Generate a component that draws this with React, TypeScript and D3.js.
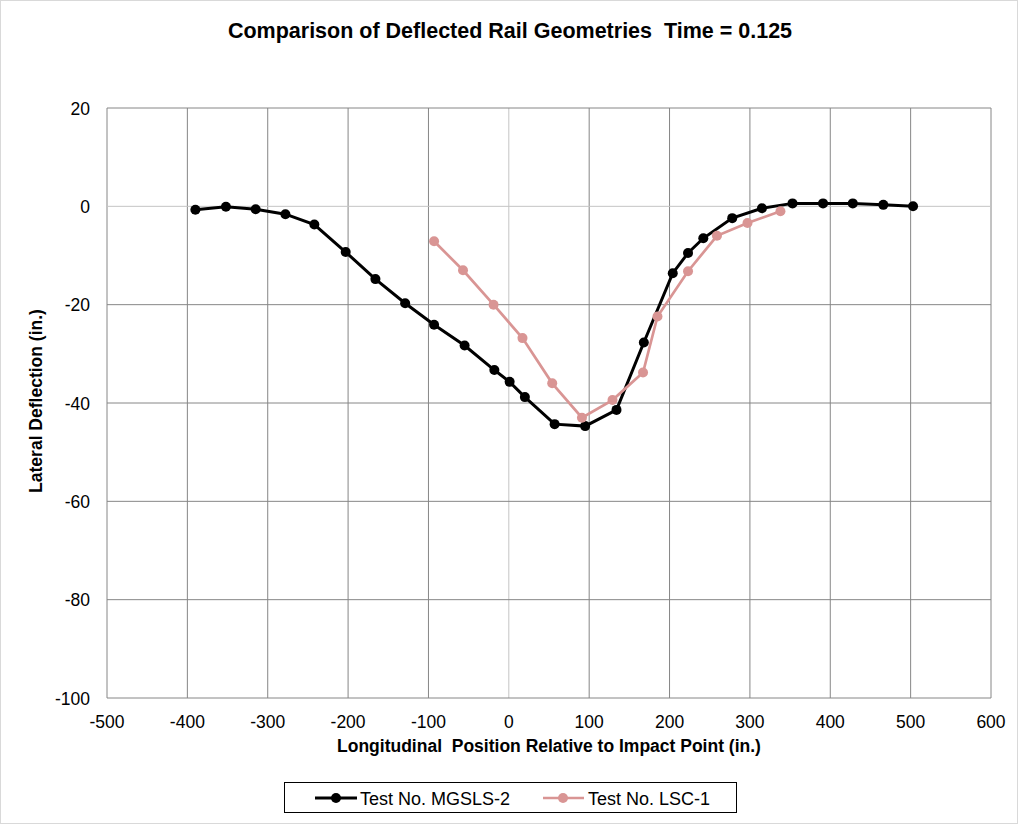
import React from "react";
import * as d3 from "d3";

const mgslsX = [-390, -352, -315, -278, -242, -203, -166, -129, -93, -55, -18, 1, 20, 57, 95, 134, 168, 204, 223, 242, 278, 315, 353, 391, 428, 466, 503];
const mgslsY = [-0.7, -0.1, -0.6, -1.6, -3.7, -9.3, -14.8, -19.7, -24.1, -28.3, -33.3, -35.7, -38.8, -44.3, -44.7, -41.4, -27.7, -13.6, -9.5, -6.5, -2.4, -0.4, 0.6, 0.6, 0.6, 0.3, 0];
const lscX = [-93, -57, -19, 17, 54, 91, 129, 167, 185, 223, 259, 297, 338];
const lscY = [-7.1, -13.0, -20.0, -26.8, -36.0, -43.0, -39.4, -33.8, -22.4, -13.2, -6.0, -3.4, -1.0];
const xTicks = [-500, -400, -300, -200, -100, 0, 100, 200, 300, 400, 500, 600];
const yTicks = [20, 0, -20, -40, -60, -80, -100];
const seriesNames = ["Test No. MGSLS-2", "Test No. LSC-1"];
const seriesColors = ["#000000", "#d99594"];

const W = 1018, H = 825;
const L = 107, R = 991, T = 108, B = 698;
const FONT = "'Liberation Sans', Arial, sans-serif";

export default function App() {
  const x = d3.scaleLinear().domain([-500, 600]).range([L, R]);
  const y = d3.scaleLinear().domain([-100, 20]).range([B, T]);
  const line = d3.line<[number, number]>().x(d => x(d[0])).y(d => y(d[1]));
  const s1: [number, number][] = mgslsX.map((v, i) => [v, mgslsY[i]]);
  const s2: [number, number][] = lscX.map((v, i) => [v, lscY[i]]);

  return (
    <svg width={W} height={H} style={{ position: "absolute", left: 0, top: 0, background: "#fff", whiteSpace: "pre" }} fontFamily={FONT}>
      <rect x={0.5} y={0.5} width={W - 1} height={H - 2} fill="#fff" stroke="#d9d9d9" />
      <text x={510} y={38} textAnchor="middle" fontSize={21.5} fontWeight="bold" style={{ whiteSpace: "pre" }}>{"Comparison of Deflected Rail Geometries  Time = 0.125"}</text>
      {/* grid */}
      {xTicks.map(t => (
        <line key={"gx" + t} x1={x(t)} x2={x(t)} y1={T} y2={B} stroke={t === 0 ? "#c4c4c4" : "#868686"} strokeWidth={1} />
      ))}
      {yTicks.map(t => (
        <line key={"gy" + t} x1={L} x2={R} y1={y(t)} y2={y(t)} stroke={t === 0 ? "#c4c4c4" : "#868686"} strokeWidth={1} />
      ))}
      {xTicks.map(t => (
        <text key={"tx" + t} x={x(t)} y={728} textAnchor="middle" fontSize={17.5}>{t}</text>
      ))}
      {yTicks.map(t => (
        <text key={"ty" + t} x={90} y={y(t) + 6.5} textAnchor="end" fontSize={17.5}>{t}</text>
      ))}
      <text x={549} y={752} textAnchor="middle" fontSize={17.5} fontWeight="bold" style={{ whiteSpace: "pre" }}>{"Longitudinal  Position Relative to Impact Point (in.)"}</text>
      <text transform={`translate(42,401) rotate(-90)`} textAnchor="middle" fontSize={17.5} fontWeight="bold">Lateral Deflection (in.)</text>
      {/* series */}
      <path d={line(s1) || ""} fill="none" stroke={seriesColors[0]} strokeWidth={3} />
      {s1.map((d, i) => <circle key={"a" + i} cx={x(d[0])} cy={y(d[1])} r={5} fill={seriesColors[0]} />)}
      <path d={line(s2) || ""} fill="none" stroke={seriesColors[1]} strokeWidth={2.7} />
      {s2.map((d, i) => <circle key={"b" + i} cx={x(d[0])} cy={y(d[1])} r={5} fill={seriesColors[1]} />)}
      {/* legend */}
      <rect x={284.5} y={782.5} width={452} height={30} fill="#fff" stroke="#000" strokeWidth={1} />
      <line x1={315} x2={357} y1={798} y2={798} stroke={seriesColors[0]} strokeWidth={3} />
      <circle cx={336} cy={798} r={5} fill={seriesColors[0]} />
      <text x={360} y={804.5} fontSize={18}>{seriesNames[0]}</text>
      <line x1={543} x2={584} y1={798} y2={798} stroke={seriesColors[1]} strokeWidth={2.7} />
      <circle cx={563} cy={798} r={5} fill={seriesColors[1]} />
      <text x={588} y={804.5} fontSize={18}>{seriesNames[1]}</text>
    </svg>
  );
}
